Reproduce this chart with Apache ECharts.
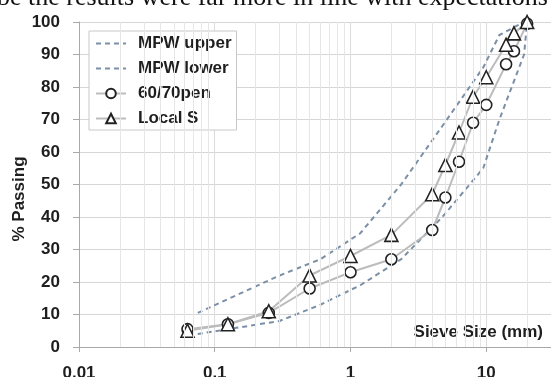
<!DOCTYPE html>
<html>
<head>
<meta charset="utf-8">
<script src="https://cdn.jsdelivr.net/npm/echarts@6/dist/echarts.min.js"></script>
<style>
  html, body { margin: 0; padding: 0; background: #fff; overflow: hidden; }
  #chart { width: 622px; height: 377px; }
</style>
</head>
<body>
<div id="chart"></div>
<script>
// sieve sizes (mm) and % passing
const sieveSizes = [0.063, 0.125, 0.25, 0.5, 1, 2, 4, 5, 6.3, 8, 10, 14, 16, 20];
const pen6070 = [5.5, 7, 10.5, 18, 23, 27, 36, 46, 57, 69, 74.5, 87, 91, 99.5];
const localS = [5, 7, 11, 22, 28, 34.5, 47, 56, 66, 77, 83, 93, 96.5, 100];

// MPW envelope
const envSizes = [0.075, 0.3, 0.6, 1.18, 2.36, 4.75, 9.5, 12.5, 19];
const mpwUpper = [10.5, 22, 27, 35, 50, 68, 86, 96, 100];
const envLowSizes = [0.075, 0.3, 0.6, 1.18, 2.36, 4.75, 9.5, 12.5, 19, 20];
const mpwLower = [4, 8, 13, 19, 27, 40, 55, 70, 90, 100];

const yTicks = [0, 10, 20, 30, 40, 50, 60, 70, 80, 90, 100];

const pair = (xs, ys) => xs.map((x, i) => [x, ys[i]]);

// log minor grid lines (2..9 in each decade)
const minorLines = [];
[0.01, 0.1, 1, 10].forEach(d => {
    for (let k = 2; k <= 9; k++) minorLines.push({ xAxis: +(d * k).toPrecision(3) });
});

const font = 'Liberation Sans, Arial, sans-serif';
const chart = echarts.init(document.getElementById('chart'));

// the plot runs on to 100 mm, past the right edge of the window
chart.setOption({
    animation: false,
    grid: { left: 79, right: 0, top: 22, bottom: 30, containLabel: false, outerBoundsMode: 'none' },
    legend: {
        orient: 'vertical',
        left: 89,
        top: 31,
        width: 148,
        padding: [4, 5, 3, 6],
        itemWidth: 30,
        itemHeight: 12,
        itemGap: 8,
        backgroundColor: '#fff',
        borderColor: '#c8c8c8',
        borderWidth: 1,
        textStyle: { fontFamily: font, fontWeight: 'bold', fontSize: 17, color: '#1e1e1e', lineHeight: 17, padding: [0, 0, 0, 7] },
        data: [
            { name: 'MPW upper', itemStyle: { opacity: 0 } },
            { name: 'MPW lower', itemStyle: { opacity: 0 } },
            '60/70pen',
            'Local S'
        ]
    },
    xAxis: {
        type: 'log',
        logBase: 10,
        min: 0.01,
        max: 100,
        axisLine: { show: true, lineStyle: { color: '#a9a9a9', width: 1 } },
        axisTick: { show: true, inside: false, length: 5, lineStyle: { color: '#a9a9a9' } },
        axisLabel: { margin: 18, fontFamily: font, fontWeight: 'bold', fontSize: 17, color: '#1e1e1e' },
        splitLine: { show: true, lineStyle: { color: '#dcdcdc', width: 1 } }
    },
    yAxis: {
        type: 'value',
        min: yTicks[0],
        max: yTicks[yTicks.length - 1],
        interval: 10,
        axisLine: { show: true, lineStyle: { color: '#a9a9a9', width: 1 } },
        axisTick: { show: true, inside: false, length: 6, lineStyle: { color: '#a9a9a9' } },
        axisLabel: { margin: 19, fontFamily: font, fontWeight: 'bold', fontSize: 17, color: '#1e1e1e' },
        splitLine: { show: true, lineStyle: { color: '#d6d6d6', width: 1 } }
    },
    graphic: [
        {
            type: 'text', left: -3, top: -15, silent: true,
            style: { text: 'be the results were far more in line with expectations', font: '26px "Liberation Serif", "Times New Roman", serif', fill: '#111' }
        },
        {
            type: 'text', x: 19, y: 199, rotation: Math.PI / 2, silent: true,
            style: { text: '% Passing', font: 'bold 17px ' + font, fill: '#1e1e1e', align: 'center', verticalAlign: 'middle' }
        },
        {
            type: 'text', x: 543, y: 332, silent: true,
            style: { text: 'Sieve Size (mm)', font: 'bold 17px ' + font, fill: '#1e1e1e', align: 'right', verticalAlign: 'middle' }
        }
    ],
    series: [
        {
            name: 'grid-minor',
            type: 'line',
            data: [],
            silent: true,
            markLine: {
                silent: true,
                symbol: 'none',
                label: { show: false },
                lineStyle: { color: '#e6e6e6', width: 1, type: 'solid' },
                data: minorLines
            },
            z: 0
        },
        {
            name: 'MPW upper',
            type: 'line',
            data: pair(envSizes, mpwUpper),
            symbol: 'none',
            showSymbol: false,
            lineStyle: { color: '#7b8fa6', width: 2, type: [5, 4] },
            itemStyle: { color: '#7b8fa6' }
        },
        {
            name: 'MPW lower',
            type: 'line',
            data: pair(envLowSizes, mpwLower),
            symbol: 'none',
            showSymbol: false,
            lineStyle: { color: '#7b8fa6', width: 2, type: [5, 4] },
            itemStyle: { color: '#7b8fa6' }
        },
        {
            name: '60/70pen',
            type: 'line',
            data: pair(sieveSizes, pen6070),
            symbol: 'circle',
            symbolSize: 11,
            lineStyle: { color: '#bcbcbc', width: 2 },
            itemStyle: { color: '#fff', borderColor: '#222', borderWidth: 1.6 }
        },
        {
            name: 'Local S',
            type: 'line',
            data: pair(sieveSizes, localS),
            symbol: 'triangle',
            symbolSize: 13,
            lineStyle: { color: '#bcbcbc', width: 2 },
            itemStyle: { color: '#fff', borderColor: '#222', borderWidth: 1.6 }
        }
    ]
});
</script>
</body>
</html>
